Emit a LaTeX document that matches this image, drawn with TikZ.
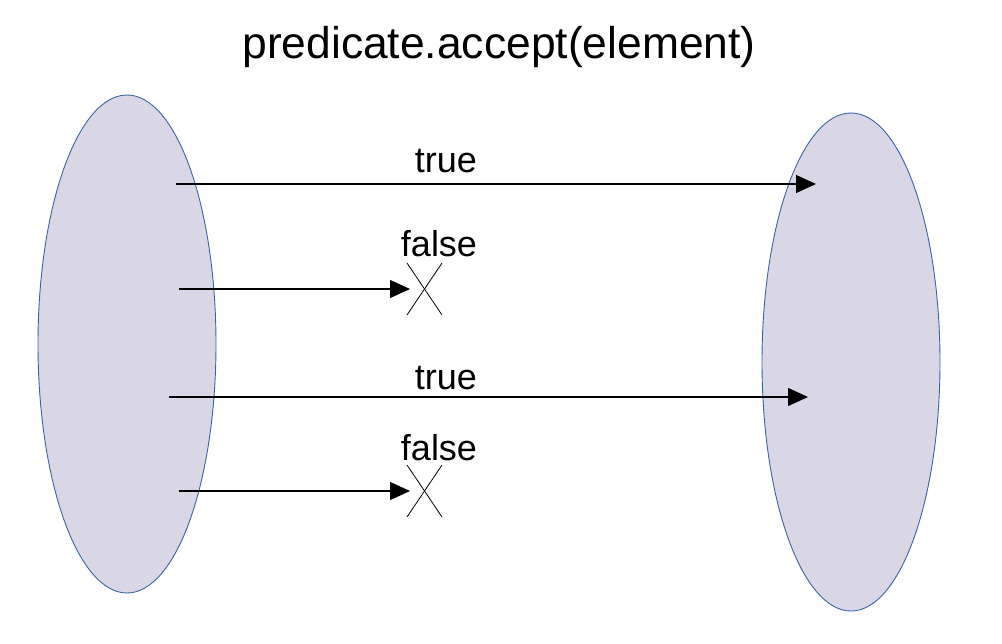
\documentclass[tikz,border=0pt]{standalone}
\usepackage{fontspec}
\setmainfont{Liberation Sans}
\usetikzlibrary{arrows.meta}
\definecolor{setfill}{RGB}{217,215,229}
\definecolor{setedge}{RGB}{56,100,170}
\tikzset{
  setshape/.style={fill=setfill,draw=setedge,line width=0.9pt},
  maparrow/.style={line width=1.1pt,-{Triangle[length=20pt,width=18pt]}},
  lbl/.style={font=\fontsize{36pt}{36pt}\selectfont,inner sep=0pt,anchor=base},
  crossline/.style={line width=0.8pt}
}
\begin{document}
\begin{tikzpicture}[x=1pt,y=-1pt]
\useasboundingbox (0,0) rectangle (1002,643);
\node[font=\fontsize{44.4pt}{44.4pt}\selectfont,inner sep=0pt,anchor=base] (title) at (499,58) {predicate.accept(element)};
\draw[setshape] (127,344) ellipse [x radius=89, y radius=249];
\draw[setshape] (851,362) ellipse [x radius=89, y radius=249];
% arrows
\coordinate (s1) at (176,184); \coordinate (e1) at (816,184);
\coordinate (s2) at (179,289); \coordinate (e2) at (410,289);
\coordinate (s3) at (169,397); \coordinate (e3) at (808,397);
\coordinate (s4) at (179,491); \coordinate (e4) at (410,491);
\draw[maparrow] (s1) -- (e1);
\draw[maparrow] (s2) -- (e2);
\draw[maparrow] (s3) -- (e3);
\draw[maparrow] (s4) -- (e4);
\node[lbl] (t1) at (446,172) {true};
\node[lbl] (f1) at (439,256) {false};
\node[lbl] (t2) at (446,389) {true};
\node[lbl] (f2) at (439,460) {false};
% crosses
\coordinate (c1a) at (407,263); \coordinate (c1b) at (442,315);
\coordinate (c1c) at (442,263); \coordinate (c1d) at (407,315);
\draw[crossline] (c1a) -- (c1b); \draw[crossline] (c1c) -- (c1d);
\coordinate (c2a) at (407,465); \coordinate (c2b) at (442,517);
\coordinate (c2c) at (442,465); \coordinate (c2d) at (407,517);
\draw[crossline] (c2a) -- (c2b); \draw[crossline] (c2c) -- (c2d);
\end{tikzpicture}
\end{document}
